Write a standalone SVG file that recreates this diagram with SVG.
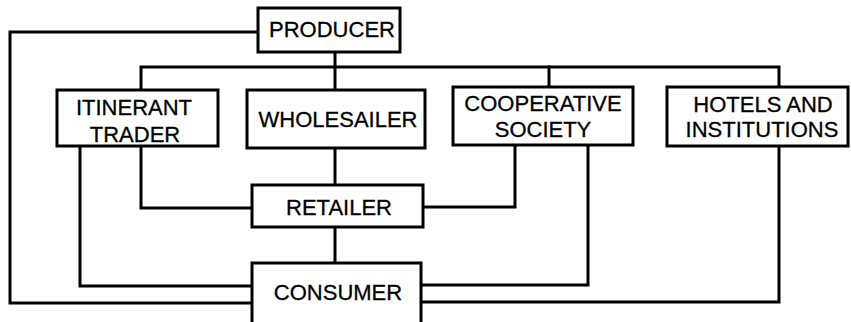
<svg xmlns="http://www.w3.org/2000/svg" width="851" height="322" viewBox="0 0 851 322">
<style>
.box{fill:#fff;stroke:#000;stroke-width:3}
.ln{fill:none;stroke:#000;stroke-width:3;stroke-linejoin:miter;stroke-linecap:square}
text{font-family:"Liberation Sans",Arial,sans-serif;font-size:22px;fill:#000;stroke:#000;stroke-width:0.3;text-anchor:middle}
</style>
<rect width="851" height="322" fill="#fff"/>
<g id="connectors">
<polyline class="ln" points="258,32 10,32 10,303 252,303"/>
<polyline class="ln" points="141,90 141,67 779,67 779,87"/>
<line class="ln" x1="335" y1="52" x2="335" y2="90"/>
<line class="ln" x1="549" y1="67" x2="549" y2="87"/>
<polyline class="ln" points="141,146 141,208 252,208"/>
<polyline class="ln" points="80,146 80,286 252,286"/>
<line class="ln" x1="335" y1="148" x2="335" y2="185"/>
<line class="ln" x1="335" y1="227" x2="335" y2="263"/>
<polyline class="ln" points="515,145 515,207 423,207"/>
<polyline class="ln" points="588,145 588,285 421,285"/>
<polyline class="ln" points="779,146 779,302 421,302"/>
</g>
<g id="producer"><rect class="box" x="258" y="8" width="142" height="44"/><text x="332" y="37">PRODUCER</text></g>
<g id="itinerant"><rect class="box" x="57" y="90" width="161" height="56"/><text x="134" y="115">ITINERANT</text><text x="135" y="142">TRADER</text></g>
<g id="wholesailer"><rect class="box" x="247" y="90" width="178" height="58"/><text x="338" y="127">WHOLESAILER</text></g>
<g id="cooperative"><rect class="box" x="453" y="87" width="180" height="58"/><text x="543" y="111">COOPERATIVE</text><text x="543" y="137">SOCIETY</text></g>
<g id="hotels"><rect class="box" x="667" y="87" width="181" height="59"/><text x="763" y="112">HOTELS AND</text><text x="762" y="137">INSTITUTIONS</text></g>
<g id="retailer"><rect class="box" x="252" y="185" width="171" height="42"/><text x="339" y="215">RETAILER</text></g>
<g id="consumer"><rect class="box" x="252" y="263" width="169" height="70"/><text x="338" y="300">CONSUMER</text></g>
</svg>
